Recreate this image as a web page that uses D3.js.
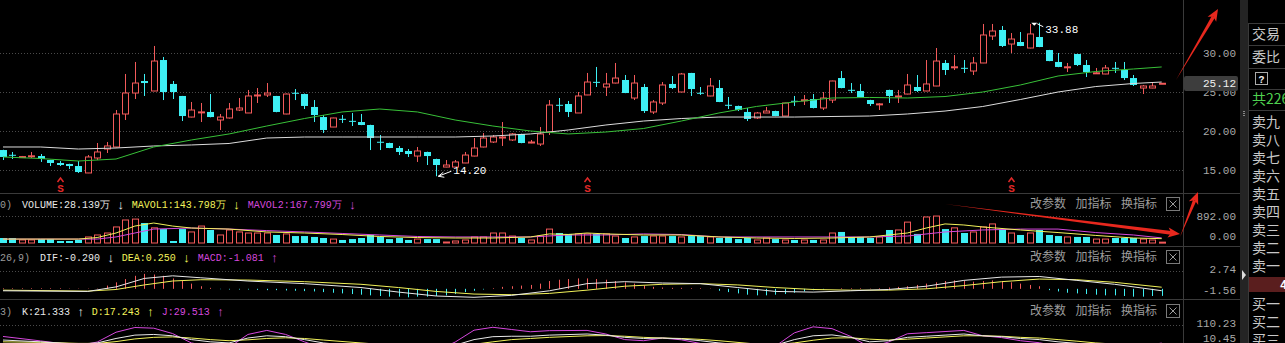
<!DOCTYPE html>
<html><head><meta charset="utf-8">
<script src="https://cdn.jsdelivr.net/npm/d3@7"></script>
<style>
body{margin:0;background:#000;overflow:hidden}
svg{display:block}
</style></head><body>
<script>
// ---- data ----
// [open, high, low, close]
const ohlc = [
[17.56,17.60,16.28,16.67],[16.95,17.31,16.41,16.90],[16.65,16.80,16.54,16.72],[16.77,17.31,16.54,16.82],
[16.79,17.05,16.03,16.41],[16.28,16.30,15.51,15.90],[15.90,16.15,15.51,15.64],[15.77,15.80,15.13,15.51],
[15.51,16.15,14.62,14.74],[14.62,16.92,14.60,16.67],[16.54,18.46,16.28,17.31],[17.69,18.59,17.18,18.08],
[17.95,22.69,17.90,22.18],[22.18,27.31,21.41,24.87],[24.87,28.85,24.10,26.15],[26.41,27.31,24.49,26.15],
[25.13,30.90,25.10,28.97],[29.10,29.49,23.97,25.00],[26.03,26.41,24.10,25.00],[24.49,24.50,21.28,21.92],
[21.79,23.72,21.75,22.69],[22.40,23.59,21.15,22.45],[22.44,24.74,21.75,21.79],[21.41,22.18,20.13,21.79],
[21.67,23.59,21.60,22.82],[22.69,24.23,22.56,22.95],[22.31,25.26,22.30,24.49],[24.49,25.51,23.59,24.62],
[24.62,26.15,24.36,24.87],[24.49,24.50,22.40,22.44],[22.18,24.80,22.15,24.74],[24.90,25.38,23.97,24.85],
[24.74,24.80,22.82,23.21],[23.08,23.97,21.15,22.05],[21.79,22.05,19.74,20.13],[20.51,21.70,20.50,21.67],
[21.56,22.05,21.03,21.52],[21.30,22.31,20.64,21.26],[21.15,22.18,20.75,20.77],[20.77,20.80,17.56,19.10],
[18.62,19.49,17.56,18.57],[18.46,18.50,17.80,17.82],[17.82,18.08,16.92,17.31],[17.44,17.69,16.67,17.05],
[16.79,17.95,16.03,17.44],[17.31,17.35,15.64,16.79],[16.41,16.45,14.20,15.64],[15.38,16.28,15.35,15.64],
[15.38,16.28,15.35,16.03],[15.90,17.31,15.88,16.92],[16.79,19.10,16.75,17.82],[17.95,19.74,17.90,19.10],
[18.59,19.49,18.46,19.23],[19.10,21.15,18.08,19.23],[18.85,19.74,18.72,19.62],[19.62,19.65,18.43,18.46],
[18.46,18.85,18.43,18.59],[18.33,20.51,18.08,19.62],[19.87,23.97,19.49,23.33],[23.36,24.23,22.44,23.30],
[23.46,23.85,21.79,22.44],[22.31,25.00,22.30,24.49],[24.62,27.44,24.60,26.28],[26.30,28.21,25.64,26.26],
[25.64,27.44,24.49,26.03],[26.15,28.72,26.10,26.79],[26.54,27.18,24.85,24.87],[24.23,27.18,23.97,26.15],
[25.64,26.03,22.31,22.56],[22.44,23.97,22.18,23.72],[23.59,26.28,23.33,25.90],[26.03,27.05,25.38,25.51],
[25.00,27.44,24.98,27.31],[27.44,27.45,24.49,25.38],[24.90,25.64,24.62,24.85],[24.49,26.79,24.45,25.77],
[25.51,26.54,23.70,23.72],[23.36,24.36,22.82,23.31],[23.21,23.25,22.56,22.69],[22.44,22.95,21.28,21.54],
[21.67,22.44,21.54,22.31],[22.31,23.08,22.30,22.56],[22.56,22.60,21.90,21.92],[21.92,23.62,21.90,23.59],
[23.87,24.49,23.21,23.83],[23.95,24.62,23.33,24.00],[24.10,24.74,22.90,22.95],[22.95,25.00,22.69,24.23],
[23.97,26.45,23.59,26.41],[26.79,27.69,25.48,25.51],[25.28,26.15,24.87,25.24],[25.13,26.03,24.33,24.36],
[23.97,24.00,23.21,23.46],[23.44,23.59,22.69,23.48],[25.26,25.30,23.59,24.49],[24.36,25.26,23.59,24.49],
[24.74,27.31,24.70,25.90],[25.64,27.18,25.00,25.13],[25.13,29.10,25.10,26.03],[25.77,30.64,25.75,28.97],
[28.72,29.10,27.18,27.82],[28.19,29.74,27.82,28.23],[28.10,29.10,27.44,28.06],[27.69,29.49,27.18,28.72],
[28.72,33.72,28.70,32.31],[32.18,33.72,31.67,32.82],[32.95,33.46,30.77,30.90],[31.15,32.56,30.00,31.79],
[31.41,32.69,30.88,30.90],[30.64,33.72,30.60,32.44],[32.05,33.88,30.75,30.77],[30.38,30.40,28.95,28.97],
[28.85,30.00,28.18,28.21],[28.19,28.72,27.56,28.23],[29.87,29.90,28.33,28.46],[28.46,29.10,26.92,27.56],
[27.42,28.08,27.31,27.46],[27.31,28.46,27.28,28.08],[28.10,28.85,27.44,28.06],[27.82,28.85,26.54,26.79],
[26.79,27.18,25.77,25.90],[25.51,25.90,24.74,25.77],[25.51,26.15,25.48,25.77],[26.08,26.15,26.03,26.12]
];

// volume (万)
const volumes = [165,165,100,100,130,130,66,66,100,200,265,330,530,760,790,660,500,460,66,460,
365,560,430,265,430,365,330,330,330,265,300,230,230,200,165,130,100,130,165,265,
200,130,165,100,130,130,130,33,66,100,200,200,330,330,230,165,100,230,460,330,
300,300,300,300,300,230,165,200,230,230,230,230,200,230,230,200,165,200,130,165,
100,165,130,100,100,100,100,100,330,365,200,200,165,200,430,430,690,300,860,890,
460,500,330,365,530,630,460,330,265,330,430,265,230,200,200,200,130,130,165,165,
165,130,100,28.139];

// price moving averages read at every 4th bar
const maIdx   = [0,4,8,12,16,20,24,28,32,36,40,44,48,52,56,60,64,68,72,76,80,84,88,92,96,100,104,108,112,116,120,123];
const maShort = [16.67,16.47,16.15,16.41,17.95,18.85,19.62,20.64,21.60,22.44,22.82,22.44,21.41,20.64,20.00,19.62,
                 19.87,20.32,21.28,22.31,23.15,23.72,24.23,24.30,24.23,24.42,25.00,25.90,27.05,27.63,27.95,28.21];
const maLong  = [17.95,17.95,17.69,17.82,18.08,18.21,18.40,19.10,19.23,19.23,19.23,19.23,19.23,19.36,19.62,20.13,
                 20.77,21.28,21.60,21.79,21.79,21.79,21.86,21.92,22.18,22.56,23.14,24.04,25.00,25.70,26.09,26.28];

// volume moving averages
const mavol1Idx = [0,4,8,10,12,14,16,18,20,24,28,32,36,40,44,48,52,56,58,60,62,64,68,72,76,80,84,88,92,94,96,98,100,102,104,108,112,116,120,123];
const mavol1    = [130,130,130,180,330,560,660,560,495,460,365,330,280,215,180,165,165,200,300,280,330,300,265,265,200,165,150,165,200,265,330,495,630,595,530,430,345,250,165,143.798];
const mavol2Idx = [0,8,10,12,14,16,20,24,28,32,36,40,44,48,52,56,60,64,68,72,76,84,92,96,100,104,108,112,116,120,123];
const mavol2    = [130,130,130,200,330,460,495,460,410,365,315,265,215,200,200,200,265,265,300,280,200,200,200,230,365,430,460,460,345,265,167.799];

// MACD
const macdIdx = [0,9,12,15,18,21,26,32,38,42,46,50,54,58,62,66,70,74,78,82,86,90,94,98,102,106,110,114,118,123];
const dif = [-0.3,-0.4,0.3,1.6,2.0,1.7,1.2,0.8,0.2,-0.5,-1.1,-1.3,-1.0,-0.3,0.8,1.1,0.9,0.8,0.2,-0.4,-0.5,-0.3,-0.1,0.4,1.3,1.8,1.9,1.3,0.7,-0.29];
const dea = [-0.2,-0.35,-0.1,0.6,1.2,1.4,1.35,1.1,0.7,0.2,-0.4,-0.8,-0.9,-0.7,-0.2,0.4,0.7,0.8,0.6,0.2,-0.1,-0.2,-0.2,0.0,0.5,1.1,1.5,1.4,1.0,0.25];
const macdHist = [0.1,0.1,0.1,0.1,0.1,0.1,0.1,0.05,0.05,0.05,0.05,0.5,1.0,1.5,2.0,2.3,2.2,2.0,1.6,1.2,
0.8,0.4,0.15,-0.05,-0.1,-0.1,-0.1,-0.15,-0.2,-0.2,-0.25,-0.3,-0.35,-0.4,-0.5,-0.6,-0.7,-0.8,-0.9,-1.0,
-1.1,-1.2,-1.2,-1.3,-1.2,-1.2,-1.1,-1.0,-0.8,-0.5,-0.3,-0.1,0.1,0.3,0.4,0.5,0.6,0.8,1.2,1.4,
1.5,1.6,1.6,1.5,1.4,1.2,1.0,0.8,0.5,0.3,0.2,0.15,0.15,0.1,0.1,0.05,-0.3,-0.5,-0.7,-0.9,
-1.0,-1.0,-0.9,-0.8,-0.6,-0.4,-0.2,-0.1,0,0.1,0.1,0.1,0.05,0.1,0.2,0.3,0.4,0.6,0.8,1.0,
1.2,1.3,1.2,1.1,1.2,1.3,1.2,1.0,0.8,0.6,0.4,-0.2,-0.4,-0.6,-0.7,-0.8,-0.9,-1.0,-1.0,-1.1,
-1.2,-1.2,-1.1,-1.081];

// KDJ
const kdjIdx = [0,4,8,10,12,14,16,18,20,22,24,26,28,30,32,34,38,42,46,48,50,52,54,56,58,62,64,66,68,70,72,74,76,80,82,84,86,88,90,92,94,96,98,100,102,104,106,108,110,112,114,116,118,120,123];
const kVal = [43,35,25,30,50,65,68,62,45,35,30,52,62,58,45,30,15,8,5,20,45,58,60,60,65,70,65,55,50,52,48,40,30,15,20,45,62,66,55,35,40,55,60,65,70,62,58,50,45,35,28,22,18,16,21.333];
const dVal = [35,33,28,28,36,48,55,57,52,45,40,44,50,53,50,43,30,18,10,13,24,35,45,50,55,62,63,60,55,52,50,46,40,25,22,30,42,52,53,47,43,47,52,57,62,62,60,55,52,45,38,30,25,20,17.243];
const jVal = [59,39,18,34,78,99,96,72,30,15,10,68,86,68,35,5,-10,-10,-5,34,87,100,90,80,85,86,70,45,40,52,44,28,10,-5,16,75,102,94,59,11,34,71,76,81,86,62,54,40,31,15,8,6,4,8,29.513];

// axis labels
const priceTicks = [15, 20, 25, 30];
const volTicks = [0, 892];
const macdTicks = [-1.56, 2.74];
const kdjTicks = [-10.45, 110.23];
const lastPrice = 25.12;
const lowMark = {i: 46, v: 14.20};
const highMark = {i: 110, v: 33.88};
const signalBars = [6, 62, 107];

const volLegend = [["0)","#9a9a9a"],["VOLUME:28.139万","#e8e8e8"],["↓","#e8e8e8"],["MAVOL1:143.798万","#f2f25a"],["↓","#f2f25a"],["MAVOL2:167.799万","#d548dd"],["↓","#d548dd"]];
const macdLegend = [["26,9)","#9a9a9a"],["DIF:-0.290","#e8e8e8"],["↓","#e8e8e8"],["DEA:0.250","#f2f25a"],["↓","#f2f25a"],["MACD:-1.081","#d548dd"],["↑","#d548dd"]];
const kdjLegend = [["3)","#9a9a9a"],["K:21.333","#e8e8e8"],["↑","#e8e8e8"],["D:17.243","#f2f25a"],["↑","#f2f25a"],["J:29.513","#d548dd"],["↑","#d548dd"]];
const panelButtons = ["改参数", "加指标", "换指标"];
const sideRows = ["卖九","卖八","卖七","卖六","卖五","卖四","卖三","卖二","卖一"];
const buyRows = ["买一","买二","买三"];

// ---- layout ----
const W = 1285, H = 343;
const plotRight = 1183;
const UP = "#f25a5a", DOWN = "#3ef0f4", WHITE = "#e8e8e8", YEL = "#f2f25a", MAG = "#d548dd";
const GRID = "#4a4a4a", LINE = "#3a3a3a";
const mono = "'Liberation Mono', 'DejaVu Sans Mono', monospace";
const cjk = "'Noto Sans CJK SC', sans-serif";

const svg = d3.select("body").append("svg").attr("width", W).attr("height", H)
  .style("background", "#000");

const x = d3.scaleLinear().domain([0, ohlc.length - 1]).range([3, 1161.7]);
const yP = d3.scaleLinear().domain([15, 30]).range([170, 53]);
const yV = d3.scaleLinear().domain([0, 892]).range([243, 216]);
const yM = d3.scaleLinear().domain([-1.56, 2.74]).range([299, 271]);
const yK = d3.scaleLinear().domain([-10.45, 110.23]).range([352, 325]);
const bw = 7;

// separators
[193, 246, 299].forEach(y => svg.append("line").attr("x1", 0).attr("x2", 1240)
  .attr("y1", y + 0.5).attr("y2", y + 0.5).attr("stroke", LINE));
svg.append("line").attr("x1", plotRight + 0.5).attr("x2", plotRight + 0.5)
  .attr("y1", 0).attr("y2", H).attr("stroke", LINE);

function dotted(y) {
  svg.append("line").attr("x1", 0).attr("x2", plotRight).attr("y1", Math.round(y) + 0.5)
    .attr("y2", Math.round(y) + 0.5).attr("stroke", GRID).attr("stroke-dasharray", "1,2");
}
priceTicks.forEach(t => dotted(yP(t)));
dotted(yV(892));
dotted(yM(2.74));
dotted(yK(110.23));

// axis labels
function axisLabel(y, txt) {
  svg.append("text").attr("x", 1236).attr("y", y).attr("dy", "0.35em")
    .attr("text-anchor", "end").attr("fill", "#a8a8a8")
    .style("font", "11px " + mono).text(txt);
}
priceTicks.forEach(t => axisLabel(yP(t), t.toFixed(2)));
axisLabel(216, "892.00");
axisLabel(236, "0.00");
axisLabel(269, "2.74");
axisLabel(290, "-1.56");
axisLabel(323, "110.23");
axisLabel(338, "10.45");

// last price box
svg.append("rect").attr("x", 1184).attr("y", 76).attr("width", 54).attr("height", 15)
  .attr("rx", 2).attr("fill", "#3d3d3d");
svg.append("text").attr("x", 1236).attr("y", 83.5).attr("dy", "0.35em").attr("text-anchor", "end")
  .attr("fill", "#f0f0f0").style("font", "11px " + mono).text(lastPrice.toFixed(2));

// ---- candles ----
const up = d => d[3] >= d[0];
const cg = svg.append("g");
cg.selectAll("line.wick").data(ohlc).join("line")
  .attr("x1", (d, i) => Math.round(x(i)) + 0.5).attr("x2", (d, i) => Math.round(x(i)) + 0.5)
  .attr("y1", d => yP(d[1])).attr("y2", d => yP(d[2]))
  .attr("stroke", d => up(d) ? UP : DOWN);
cg.selectAll("rect").data(ohlc).join("rect")
  .attr("x", (d, i) => Math.round(x(i)) - 3 + (up(d) ? 0.5 : 0))
  .attr("y", d => yP(Math.max(d[0], d[3])))
  .attr("width", d => up(d) ? bw - 1 : bw)
  .attr("height", d => Math.max(1, yP(Math.min(d[0], d[3])) - yP(Math.max(d[0], d[3]))))
  .attr("fill", d => up(d) ? "#000" : DOWN)
  .attr("stroke", d => up(d) ? UP : "none");

// MA lines
function idxLine(idx, vals, ys, color, g) {
  const pts = idx.map((k, j) => [x(k), ys(vals[j])]);
  (g || svg).append("path").attr("d", d3.line()(pts)).attr("fill", "none")
    .attr("stroke", color).attr("stroke-width", 1);
}
idxLine(maIdx, maLong, yP, "#dcdcdc");
idxLine(maIdx, maShort, yP, "#38c038");

// signal markers
signalBars.forEach(i => {
  const cx = Math.round(x(i)) + 0.5;
  svg.append("path").attr("d", `M${cx - 3},${182} L${cx},${178} L${cx + 3},${182}`)
    .attr("fill", "none").attr("stroke", "#e02828").attr("stroke-width", 1.5);
  svg.append("text").attr("x", cx).attr("y", 188).attr("dy", "0.35em").attr("text-anchor", "middle")
    .attr("fill", "#e02828").style("font", "bold 11px " + mono).text("S");
});

// low / high notes
{
  const lx = x(lowMark.i), ly = yP(lowMark.v);
  svg.append("line").attr("x1", lx + 15).attr("y1", ly - 5).attr("x2", lx + 2).attr("y2", ly)
    .attr("stroke", "#fff");
  svg.append("path").attr("d", `M${lx + 2},${ly} l5,-4 M${lx + 2},${ly} l6,1`).attr("stroke", "#fff");
  svg.append("text").attr("x", lx + 17).attr("y", ly - 6).attr("dy", "0.35em").attr("fill", "#fff")
    .style("font", "11px " + mono).text(lowMark.v.toFixed(2));
  const hx = x(highMark.i), hy = yP(highMark.v);
  svg.append("path").attr("d", `M${hx - 8},${hy} L${hx - 2},${hy} L${hx - 5},${hy + 3}Z`).attr("fill", "#fff");
  svg.append("line").attr("x1", hx - 2).attr("y1", hy + 1).attr("x2", hx + 4).attr("y2", hy + 4).attr("stroke", "#fff");
  svg.append("text").attr("x", hx + 6).attr("y", hy + 6).attr("dy", "0.35em").attr("fill", "#fff")
    .style("font", "11px " + mono).text(highMark.v.toFixed(2));
}

// ---- volume ----
const vg = svg.append("g");
vg.selectAll("rect").data(volumes).join("rect")
  .attr("x", (d, i) => Math.round(x(i)) - 3 + (up(ohlc[i]) ? 0.5 : 0))
  .attr("y", d => yV(d))
  .attr("width", (d, i) => up(ohlc[i]) ? bw - 1 : bw)
  .attr("height", d => Math.max(1, yV(0) - yV(d)))
  .attr("fill", (d, i) => up(ohlc[i]) ? "#000" : DOWN)
  .attr("stroke", (d, i) => up(ohlc[i]) ? UP : "none");
idxLine(mavol2Idx, mavol2, yV, MAG);
idxLine(mavol1Idx, mavol1, yV, YEL);

// ---- MACD ----
const mg = svg.append("g");
mg.selectAll("line").data(macdHist).join("line")
  .attr("x1", (d, i) => Math.round(x(i)) + 0.5).attr("x2", (d, i) => Math.round(x(i)) + 0.5)
  .attr("y1", yM(0)).attr("y2", d => yM(d))
  .attr("stroke", d => d >= 0 ? UP : DOWN);
idxLine(macdIdx, dea, yM, YEL);
idxLine(macdIdx, dif, yM, WHITE);

// ---- KDJ ----
const kg = svg.append("g");
idxLine(kdjIdx, jVal, yK, MAG, kg);
idxLine(kdjIdx, dVal, yK, YEL, kg);
idxLine(kdjIdx, kVal, yK, WHITE, kg);

// ---- legends ----
function legend(y, segs) {
  let cx = 0;
  segs.forEach(([t, c], k) => {
    const arrowGlyph = t.length === 1;
    const el = svg.append("text").attr("x", cx).attr("y", y).attr("dy", "0.35em").attr("fill", c)
      .style("font", (arrowGlyph ? "13px " : "10px ") + mono).text(t);
    cx += el.node().getComputedTextLength() + (k === 0 ? 10 : 7);
  });
}
legend(204, volLegend);
legend(257, macdLegend);
legend(311, kdjLegend);

function buttons(y) {
  panelButtons.forEach((b, k) => svg.append("text").attr("x", 1030 + k * 45.5).attr("y", y)
    .attr("dy", "0.35em").attr("fill", "#9c9c9c").style("font", "12px " + cjk).text(b));
  svg.append("rect").attr("x", 1166.5).attr("y", y - 6.5).attr("width", 13).attr("height", 13)
    .attr("fill", "none").attr("stroke", "#7a7a7a");
  svg.append("path").attr("d", `M${1169.5},${y - 3.5} l7,7 M${1176.5},${y - 3.5} l-7,7`)
    .attr("stroke", "#9c9c9c");
}
buttons(204); buttons(257); buttons(311);

// ---- right side panel ----
svg.append("rect").attr("x", 1240).attr("y", 0).attr("width", 8).attr("height", H).attr("fill", "#242424");
svg.append("path").attr("d", "M1242,270 L1246,275 L1242,280Z").attr("fill", "#ddd");
[111, 113, 115].forEach(y => svg.append("rect").attr("x", 1243).attr("y", y).attr("width", 2).attr("height", 1).attr("fill", "#888"));
[23, 45, 68, 89, 110].forEach(y => svg.append("line").attr("x1", 1248).attr("x2", W)
  .attr("y1", y + 0.5).attr("y2", y + 0.5).attr("stroke", "#3a3a3a"));
svg.append("line").attr("x1", 1248.5).attr("x2", 1248.5).attr("y1", 23).attr("y2", H).attr("stroke", "#3a3a3a");
const side = (t, y, c) => svg.append("text").attr("x", 1252).attr("y", y).attr("dy", "0.35em")
  .attr("fill", c || "#c8c8c8").style("font", "14px " + cjk).text(t);
side("交易", 34); side("委比", 57);
svg.append("rect").attr("x", 1255.5).attr("y", 72.5).attr("width", 12).attr("height", 12)
  .attr("fill", "none").attr("stroke", "#aaa");
svg.append("text").attr("x", 1261.5).attr("y", 79).attr("dy", "0.35em").attr("text-anchor", "middle")
  .attr("fill", "#eee").style("font", "bold 10px " + mono).text("?");
side("共226", 99, "#4fd04f");
sideRows.forEach((t, k) => side(t, 122 + k * 18, "#c8c8c8"));
svg.append("rect").attr("x", 1249).attr("y", 277).attr("width", 36).attr("height", 15).attr("fill", "#5a1e1e");
svg.append("text").attr("x", 1280).attr("y", 284.5).attr("dy", "0.35em").attr("fill", "#fff")
  .style("font", "bold 12px " + mono).text("4");
buyRows.forEach((t, k) => side(t, 304 + k * 18, "#c8c8c8"));

// ---- hand-drawn red arrows ----
function arrow(x1, y1, x2, y2, w) {
  const a = Math.atan2(y2 - y1, x2 - x1), L = Math.hypot(x2 - x1, y2 - y1);
  const g = svg.append("g").attr("transform", `translate(${x1},${y1}) rotate(${a * 180 / Math.PI})`);
  g.append("path").attr("d", `M0,0 L${L - 9},${-w / 2} L${L - 9},${w / 2}Z`).attr("fill", "#e8281e");
  g.append("path").attr("d", `M${L},0 L${L - 12},-5 L${L - 9},0 L${L - 12},5Z`).attr("fill", "#e8281e");
}
arrow(1176, 80, 1218, 9, 3.5);
arrow(945, 204, 1180, 234, 4);
arrow(1180, 237, 1198, 192, 3.5);
</script>
</body></html>
